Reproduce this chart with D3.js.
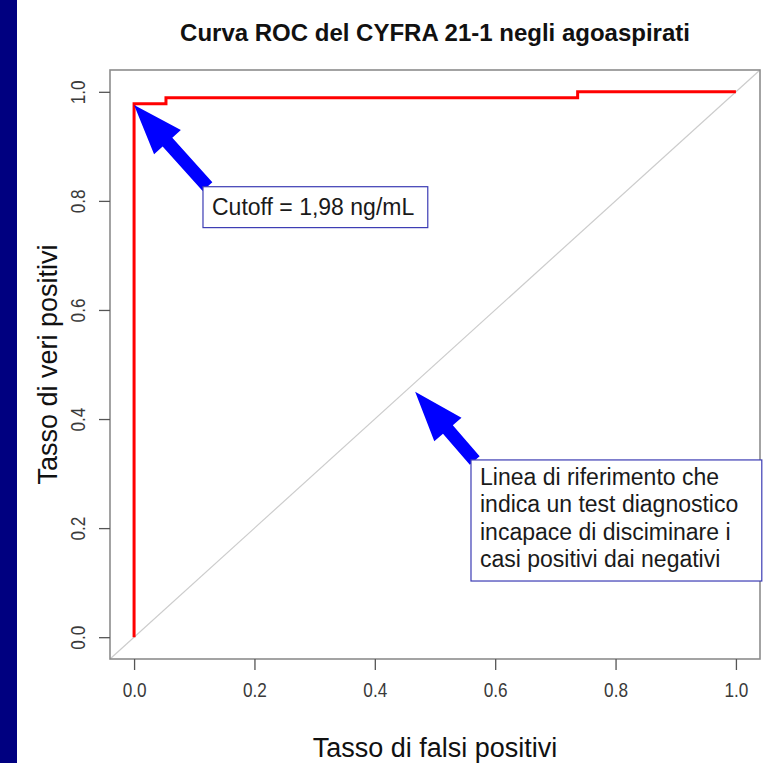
<!DOCTYPE html>
<html>
<head>
<meta charset="utf-8">
<script src="https://cdn.jsdelivr.net/npm/d3@7"></script>
<style>
  body { margin: 0; background: #fff; }
  svg { display: block; }
</style>
</head>
<body>
<div id="wrapper"></div>
<script>
// ROC curve points (false positive rate, true positive rate)
const fpr = [0, 0, 0.053, 0.053, 0.737, 0.737, 1]
const tpr = [0, 0.978, 0.978, 0.989, 0.989, 1, 1]
const tickValues = [0, 0.2, 0.4, 0.6, 0.8, 1]
const tickLabels = ["0.0", "0.2", "0.4", "0.6", "0.8", "1.0"]

const title = "Curva ROC del CYFRA 21-1 negli agoaspirati"
const xLabel = "Tasso di falsi positivi"
const yLabel = "Tasso di veri positivi"
const cutoffText = ["Cutoff = 1,98 ng/mL"]
const refText = [
  "Linea di riferimento che",
  "indica un test diagnostico",
  "incapace di disciminare i",
  "casi positivi dai negativi",
]

function draw() {
  const dms = {
    width: 764,
    height: 763,
    margin: { top: 70, right: 4, bottom: 104, left: 110 },
  }
  dms.boundedWidth = dms.width - dms.margin.left - dms.margin.right
  dms.boundedHeight = dms.height - dms.margin.top - dms.margin.bottom

  const svg = d3.select("#wrapper")
    .append("svg")
    .attr("width", dms.width)
    .attr("height", dms.height)

  // navy strip on the left
  svg.append("rect")
    .attr("x", 0).attr("y", 0)
    .attr("width", 17).attr("height", dms.height)
    .attr("fill", "#000080")

  const bounds = svg.append("g")
    .attr("transform", `translate(${dms.margin.left},${dms.margin.top})`)

  // R style: 4% padding around [0,1]
  const xScale = d3.scaleLinear()
    .domain([-0.04, 1.04])
    .range([0, dms.boundedWidth])
  const yScale = d3.scaleLinear()
    .domain([-0.04, 1.04])
    .range([dms.boundedHeight, 0])

  const font = "'Liberation Sans', Arial, sans-serif"

  // reference diagonal (abline across the whole region)
  bounds.append("line")
    .attr("x1", xScale(-0.04)).attr("y1", yScale(-0.04))
    .attr("x2", xScale(1.04)).attr("y2", yScale(1.04))
    .attr("stroke", "#cccccc")
    .attr("stroke-width", 1.2)

  // ROC curve
  const rocLine = d3.line()
    .x((d, i) => xScale(fpr[i]))
    .y((d, i) => yScale(tpr[i]))
  bounds.append("path")
    .attr("d", rocLine(fpr))
    .attr("fill", "none")
    .attr("stroke", "#ff0000")
    .attr("stroke-width", 3)

  // box
  bounds.append("rect")
    .attr("width", dms.boundedWidth)
    .attr("height", dms.boundedHeight)
    .attr("fill", "none")
    .attr("stroke", "#8c8c8c")
    .attr("stroke-width", 1.6)

  // axes
  const xAxisGenerator = d3.axisBottom(xScale)
    .tickValues(tickValues)
    .tickFormat((d, i) => tickLabels[i])
    .tickSize(11)
  const xAxis = bounds.append("g")
    .attr("transform", `translate(0,${dms.boundedHeight})`)
    .call(xAxisGenerator)
  xAxis.select(".domain").remove()

  const yAxisGenerator = d3.axisLeft(yScale)
    .tickValues(tickValues)
    .tickFormat((d, i) => tickLabels[i])
    .tickSize(11)
  const yAxis = bounds.append("g")
    .call(yAxisGenerator)
  yAxis.select(".domain").remove()

  ;[xAxis, yAxis].forEach(ax => ax
    .attr("font-size", 20)
    .attr("font-family", font))

  bounds.selectAll(".tick line")
    .attr("stroke", "#555")
    .attr("stroke-width", 1.3)
  bounds.selectAll(".tick text")
    .attr("fill", "#3a3a3a")
    .attr("font-size", 20)
    .attr("x", 0).attr("y", 0).attr("dy", 0)
    .attr("text-anchor", "middle")

  // tick labels are slightly condensed in the original
  xAxis.selectAll(".tick text")
    .attr("transform", "translate(0,38) scale(0.86,1)")

  yAxis.selectAll(".tick text")
    .attr("transform", "translate(-25,0) rotate(-90) scale(0.86,1)")

  // titles
  svg.append("text")
    .attr("x", dms.margin.left + dms.boundedWidth / 2)
    .attr("y", 41)
    .attr("text-anchor", "middle")
    .style("font-family", font)
    .style("font-weight", "bold")
    .style("font-size", "24px")
    .attr("fill", "#111")
    .text(title)

  svg.append("text")
    .attr("x", dms.margin.left + dms.boundedWidth / 2)
    .attr("y", 757)
    .attr("text-anchor", "middle")
    .style("font-family", font)
    .style("font-size", "27px")
    .attr("fill", "#111")
    .text(xLabel)

  svg.append("text")
    .attr("transform", `translate(57,${dms.margin.top + yScale(0.5)}) rotate(-90)`)
    .attr("text-anchor", "middle")
    .style("font-family", font)
    .style("font-size", "27px")
    .attr("fill", "#111")
    .text(yLabel)

  // arrows
  function arrowPath(tip, tail, shaftW, headW, headL) {
    const dx = tail[0] - tip[0], dy = tail[1] - tip[1]
    const len = Math.hypot(dx, dy)
    const ux = dx / len, uy = dy / len
    const px = -uy, py = ux
    const bx = tip[0] + ux * headL, by = tip[1] + uy * headL
    const pts = [
      tip,
      [bx + px * headW / 2, by + py * headW / 2],
      [bx + px * shaftW / 2, by + py * shaftW / 2],
      [tail[0] + px * shaftW / 2, tail[1] + py * shaftW / 2],
      [tail[0] - px * shaftW / 2, tail[1] - py * shaftW / 2],
      [bx - px * shaftW / 2, by - py * shaftW / 2],
      [bx - px * headW / 2, by - py * headW / 2],
    ]
    return "M" + pts.map(p => p.join(",")).join("L") + "Z"
  }

  const arrows = [
    { tip: [0.0, 0.976], tail: [0.122, 0.826] },
    { tip: [0.467, 0.450], tail: [0.566, 0.324] },
  ]
  bounds.selectAll(".arrow")
    .data(arrows)
    .join("path")
    .attr("class", "arrow")
    .attr("d", d => arrowPath(
      [xScale(d.tip[0]), yScale(d.tip[1])],
      [xScale(d.tail[0]), yScale(d.tail[1])],
      13, 36, 50))
    .attr("fill", "#0000ff")

  // annotation boxes
  const notes = [
    { x0: 0.1145, x1: 0.488, y0: 0.826, y1: 0.751, lines: cutoffText, size: 23, first: 28, lh: 0 },
    { x0: 0.5598, x1: 1.043, y0: 0.325, y1: 0.103, lines: refText, size: 23, first: 25, lh: 27.5 },
  ]
  const noteG = bounds.selectAll(".note")
    .data(notes)
    .join("g")
    .attr("class", "note")
  noteG.append("rect")
    .attr("x", d => xScale(d.x0))
    .attr("y", d => yScale(d.y0))
    .attr("width", d => xScale(d.x1) - xScale(d.x0))
    .attr("height", d => yScale(d.y1) - yScale(d.y0))
    .attr("fill", "#fff")
    .attr("stroke", "#3c3cb4")
    .attr("stroke-width", 1.2)
  noteG.each(function (d) {
    const g = d3.select(this)
    g.selectAll("text")
      .data(d.lines)
      .join("text")
      .attr("x", xScale(d.x0) + 9)
      .attr("y", (l, i) => yScale(d.y0) + d.first + i * d.lh)
      .style("font-family", font)
      .style("font-size", d.size + "px")
      .attr("fill", "#1a1a1a")
      .text(l => l)
  })
}

draw()
</script>
</body>
</html>
